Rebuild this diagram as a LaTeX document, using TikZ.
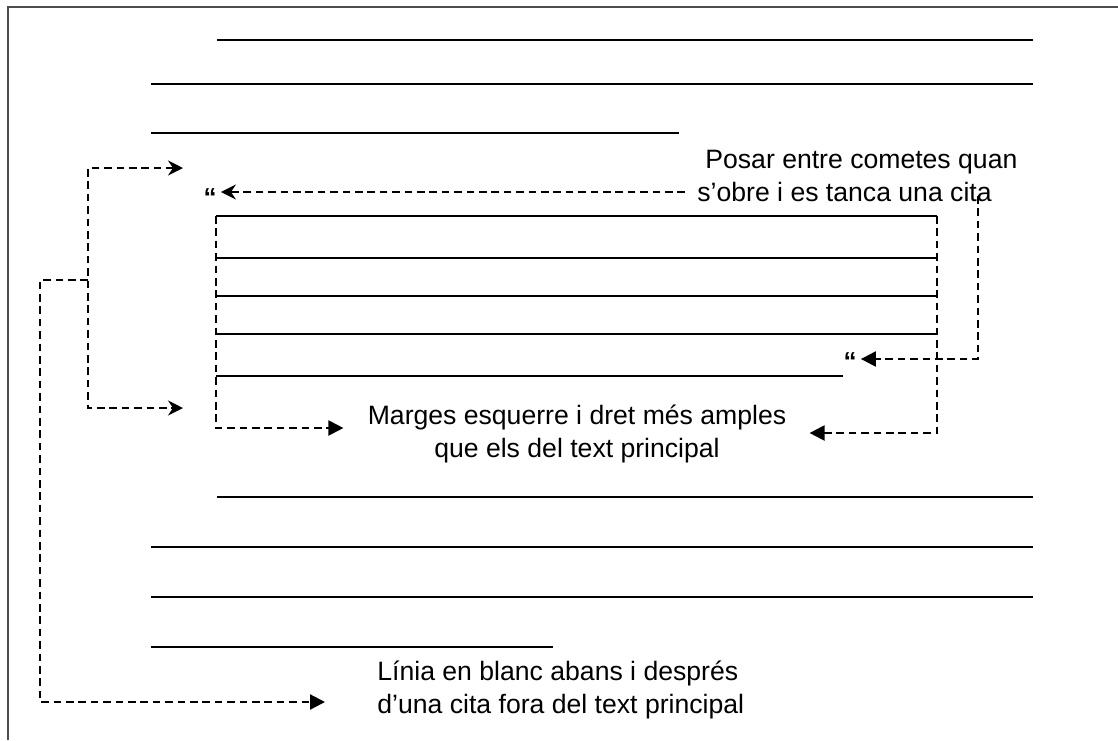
\documentclass[tikz,border=0pt]{standalone}
\usepackage{fontspec}
\setmainfont{Liberation Sans}
\usetikzlibrary{positioning,arrows.meta}
\tikzset{
	rule/.style = {line width=1pt},
	guide/.style = {line width=1.1pt, dash pattern=on 3.8pt off 2.4pt,
		>={Triangle[length=7.5pt, width=7.5pt]}},
	swept/.tip = {Stealth[length=7.5pt, width=7.5pt, inset=2.5pt]},
	lbl/.style = {inner sep=0pt, font=\fontsize{13.3}{16.5}\selectfont},
	quot/.style = {inner sep=2pt, font=\fontsize{13}{16}\selectfont\bfseries}
}

\begin{document}
\begin{tikzpicture}[x=0.5pt, y=-0.5pt]
\useasboundingbox (0,0) rectangle (1118,740);
% frame
\draw [gray!60!black, line width=0.8pt] (8,740) -- (8,7) -- (1118,7);

% TEXT LINES
% main text before the quote
\draw [rule] (217,40) -- (1033,40);
\draw [rule] (151,84) -- (1033,84);
\draw [rule] (151,133) -- (679,133);
% quote
\foreach \y in {216,258,296,334}
	\draw [rule] (216,\y) -- (937,\y);
\draw [rule] (216,376) -- (843,376);
% main text after the quote
\draw [rule] (217,497) -- (1033,497);
\draw [rule] (151,547) -- (1033,547);
\draw [rule] (151,597) -- (1033,597);
\draw [rule] (151,647) -- (553,647);

% NODES
\node (cometes) [lbl, align=left, anchor=west] at (697,176) {\hspace{4pt}Posar entre cometes quan\\s’obre i es tanca una cita};
\node (marges) [lbl, align=center] at (577,434) {Marges esquerre i dret més amples\\que els del text principal};
\node (blanc) [lbl, align=left, anchor=west] at (377,690) {Línia en blanc abans i després\\d’una cita fora del text principal};
\node (obre) [quot] at (210,198) {“};
\node (tanca) [quot] at (850,362) {“};
% free ends
\coordinate (cometes-w) at (685,192);
\coordinate (cita-end) at (978,196);
\coordinate (quote-tl) at (216,216);
\coordinate (quote-tr) at (937,216);
\coordinate (gaptop) at (183,168);
\coordinate (gapbot) at (183,408);
\coordinate (gapmid) at (88,280);

% CONNECTIONS
\draw [guide, -swept] (cometes-w) -- (obre.east |- cometes-w);
\draw [guide, ->] (cita-end) |- ([yshift=1.5pt]tanca.east);
\draw [guide, ->, shorten >=12pt] (quote-tl) |- ([yshift=3pt]marges.west);
\draw [guide, ->, shorten >=11.5pt] (quote-tr) |- ([yshift=0.5pt]marges.east);
\draw [guide, swept-swept] (gaptop) -- ++(-95,0) |- (gapbot);
\draw [guide, ->, shorten >=26pt] (gapmid) -- ++(-48,0) |- ([yshift=-6pt]blanc.west);

\end{tikzpicture}
\end{document}
